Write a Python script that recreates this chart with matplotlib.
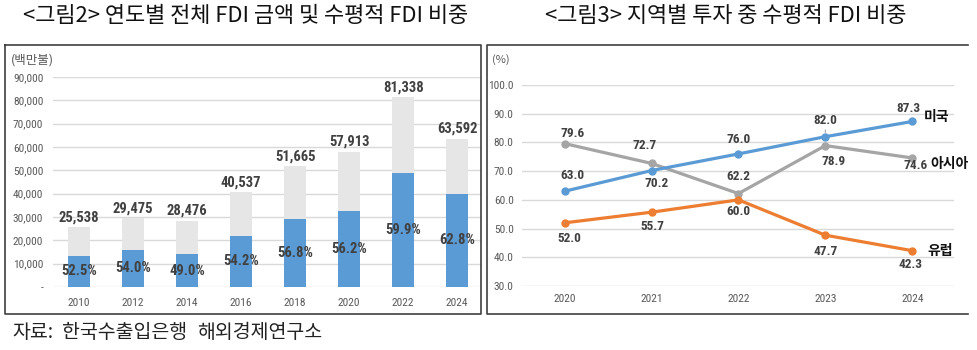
import matplotlib
matplotlib.use("Agg")
import matplotlib.pyplot as plt
from matplotlib.lines import Line2D

plt.rcParams['font.family'] = ['Noto Sans CJK KR', 'DejaVu Sans']

# ---- data: figure 2 ----
years2 = ['2010', '2012', '2014', '2016', '2018', '2020', '2022', '2024']
totals = [25538, 29475, 28476, 40537, 51665, 57913, 81338, 63592]
horiz_pct = [52.5, 54.0, 49.0, 54.2, 56.8, 56.2, 59.9, 62.8]
y_ticks2 = [0, 10000, 20000, 30000, 40000, 50000, 60000, 70000, 80000, 90000]

# ---- data: figure 3 ----
years3 = ['2020', '2021', '2022', '2023', '2024']
usa = [63.0, 70.2, 76.0, 82.0, 87.3]
asia = [79.6, 72.7, 62.2, 78.9, 74.6]
europe = [52.0, 55.7, 60.0, 47.7, 42.3]
y_ticks3 = [30, 40, 50, 60, 70, 80, 90, 100]

W, H = 978, 350
fig = plt.figure(figsize=(W / 100, H / 100), dpi=100)

def px_axes(x0, y0, x1, y1):
    return fig.add_axes([x0 / W, 1 - y1 / H, (x1 - x0) / W, (y1 - y0) / H])

NARROW = ['Roboto Condensed', 'Roboto', 'DejaVu Sans']
LBL = '#404040'
TICK = '#595959'

def frame_line(xs, ys):
    fig.add_artist(Line2D([x / W for x in xs], [1 - y / H for y in ys], color='#404040', lw=1.2))

frame_line([5, 481, 481, 5, 5], [45, 45, 314, 314, 45])
frame_line([968, 487, 487, 968], [45, 45, 314, 314])

# titles
fig.text(246 / W, 1 - 16 / H, '<그림2> 연도별 전체 FDI 금액 및 수평적 FDI 비중', ha='center', va='center',
         fontsize=15.8, fontweight='medium', color='#111111')
fig.text(726 / W, 1 - 16 / H, '<그림3> 지역별 투자 중 수평적 FDI 비중', ha='center', va='center',
         fontsize=15.8, fontweight='medium', color='#111111')
for xs, word in ((12, '자료:'), (62, '한국수출입은행'), (197, '해외경제연구소')):
    fig.text(xs / W, 1 - 333 / H, word, ha='left', va='center', fontsize=14, color='#222222')

# ---- left chart ----
ax = px_axes(53, 77, 481, 287)
x = list(range(len(years2)))
blue = [t * p / 100 for t, p in zip(totals, horiz_pct)]
ax.bar(x, totals, width=0.41, color='#e6e6e6', zorder=2)
ax.bar(x, blue, width=0.41, color='#5b9bd5', zorder=3)
for xi, t, b, p in zip(x, totals, blue, horiz_pct):
    ax.annotate(f'{t:,}', (xi, t), xytext=(0, 3), textcoords='offset pixels', ha='center', va='bottom',
                fontsize=10.5, fontweight='bold', color=LBL, family=NARROW, zorder=5)
    ax.text(xi, b / 2, f'{p:.1f}%', ha='center', va='center', fontsize=10.5, fontweight='bold',
            color=LBL, family=NARROW, zorder=5)
ax.set_xlim(-0.48, 7.44)
ax.set_ylim(0, 90000)
ax.set_yticks(y_ticks2)
ax.set_yticklabels(['-' if v == 0 else f'{v:,}' for v in y_ticks2], family=NARROW, fontsize=8.2, color=TICK)
ax.set_xticks(x)
ax.set_xticklabels(years2, family=NARROW, fontsize=8.2, color=TICK)
ax.grid(axis='y', color='#d9d9d9', lw=1, zorder=0)
ax.tick_params(length=0, pad=7)
ax.tick_params(axis='x', pad=8)
for s in ax.spines.values():
    s.set_visible(False)
ax.set_facecolor('none')
fig.text(11 / W, 1 - 60 / H, '(백만불)', ha='left', va='center', fontsize=9, color=TICK)

# ---- right chart ----
ax2 = px_axes(522, 85, 954, 286)
x3 = list(range(len(years3)))
c_usa, c_asia, c_eu = '#5b9bd5', '#a5a5a5', '#ed7d31'
ax2.plot(x3, asia, color=c_asia, lw=2.3, marker='o', ms=5, zorder=3)
ax2.plot(x3, usa, color=c_usa, lw=2.3, marker='o', ms=5, zorder=4)
ax2.plot(x3, europe, color=c_eu, lw=2.3, marker='o', ms=5, zorder=4)

usa_off = [(8, 16), (5, -13), (0, 14), (0, 16), (-4, 13)]
asia_off = [(8, 10), (-7, 18), (0, 17), (8, -16), (3, -8)]
eu_off = [(5, -16), (1, -14), (0, -12), (0, -16), (-2, -14)]
leaders = {('usa', 3), ('asia', 1), ('eu', 0)}
for name, series, offs in (('usa', usa, usa_off), ('asia', asia, asia_off), ('eu', europe, eu_off)):
    for xi, v, (dx, dy) in zip(x3, series, offs):
        kw = {}
        if (name, xi) in leaders:
            kw['arrowprops'] = dict(arrowstyle='-', color='#a6a6a6', lw=0.8, shrinkA=5, shrinkB=3)
        ax2.annotate(f'{v:.1f}', (xi, v), xytext=(dx, dy), textcoords='offset pixels', ha='center',
                     va='center', fontsize=9.5, fontweight='bold', color=LBL, family=NARROW, zorder=6, **kw)

ax2.annotate('미국', (4, usa[-1]), xytext=(12, 4), textcoords='offset pixels', ha='left', va='center',
             fontsize=10, fontweight='bold', color='#111111', annotation_clip=False)
ax2.annotate('아시아', (4, asia[-1]), xytext=(18, -6), textcoords='offset pixels', ha='left', va='center',
             fontsize=10, fontweight='bold', color='#111111', annotation_clip=False)
ax2.annotate('유럽', (4, europe[-1]), xytext=(15, 0), textcoords='offset pixels', ha='left', va='center',
             fontsize=10, fontweight='bold', color='#111111', annotation_clip=False)

ax2.set_xlim(-0.49, 4.48)
ax2.set_ylim(30, 100)
ax2.set_yticks(y_ticks3)
ax2.set_yticklabels([f'{v:.1f}' for v in y_ticks3], family=NARROW, fontsize=8.2, color=TICK)
ax2.set_xticks(x3)
ax2.set_xticklabels(years3, family=NARROW, fontsize=8.2, color=TICK)
ax2.grid(axis='y', color='#d9d9d9', lw=1, zorder=0)
ax2.tick_params(length=0, pad=6)
ax2.tick_params(axis='x', pad=6)
for s in ax2.spines.values():
    s.set_visible(False)
ax2.set_facecolor('none')
fig.text(492 / W, 1 - 60 / H, '(%)', ha='left', va='center', fontsize=8, color=TICK)

fig.savefig('out.png', dpi=100)
